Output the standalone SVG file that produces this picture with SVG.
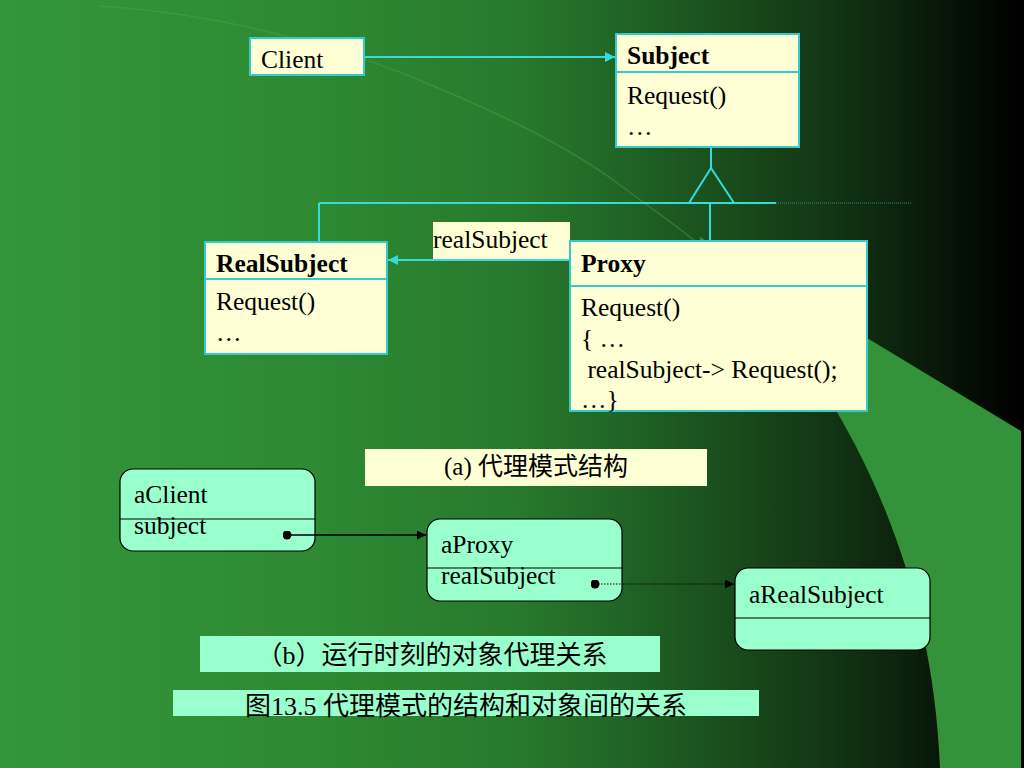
<svg xmlns="http://www.w3.org/2000/svg" width="1024" height="768" viewBox="0 0 1024 768">
<defs>
<linearGradient id="bg" x1="0" y1="0" x2="1024" y2="0" gradientUnits="userSpaceOnUse">
<stop offset="0" stop-color="#33963a"/>
<stop offset="0.3" stop-color="#2e8a33"/>
<stop offset="0.5" stop-color="#287a2d"/>
<stop offset="0.6" stop-color="#216626"/>
<stop offset="0.7" stop-color="#1a4f1d"/>
<stop offset="0.8" stop-color="#133815"/>
<stop offset="0.88" stop-color="#0c220d"/>
<stop offset="0.96" stop-color="#030a03"/>
<stop offset="1" stop-color="#000000"/>
</linearGradient>
<marker id="cyanArrow" viewBox="0 0 10 10" refX="10" refY="5" markerWidth="10" markerHeight="10" markerUnits="userSpaceOnUse" orient="auto">
<path d="M0,0 L10,5 L0,10 z" fill="#33dddd"/>
</marker>
<marker id="blackArrow" viewBox="0 0 10 10" refX="10" refY="5" markerWidth="9" markerHeight="9" markerUnits="userSpaceOnUse" orient="auto">
<path d="M0,0 L10,5 L0,10 z" fill="#000"/>
</marker>
<marker id="dot" viewBox="0 0 10 10" refX="5" refY="5" markerWidth="9" markerHeight="9" markerUnits="userSpaceOnUse">
<circle cx="5" cy="5" r="5" fill="#000"/>
</marker>
</defs>
<style>
.cls{fill:#ffffd5;stroke:#33cccc;stroke-width:2}
.div{stroke:#33cccc;stroke-width:2}
.obj{fill:#99ffcc;stroke:#000;stroke-width:1.2}
.odiv{stroke:#000;stroke-width:1.2}
.t{font-family:"Liberation Serif","Noto Sans CJK SC",serif;font-size:25.5px;fill:#000}
.b{font-weight:bold}
.cap{font-family:"Liberation Serif","Noto Sans CJK SC",serif;font-size:25px;fill:#000;text-anchor:middle}
.cap2{font-family:"Liberation Serif","Noto Sans CJK SC",serif;font-size:26px;fill:#000;text-anchor:middle}
.conn{stroke:#33dddd;stroke-width:2;fill:none}
</style>

<!-- background -->
<rect x="0" y="0" width="1024" height="768" fill="url(#bg)"/>
<path d="M700,237 L1021,431 L1021,768 L940,768 C935,640 900,520 837,412 C800,350 760,295 700,245 Z" fill="#34933a"/>
<path d="M100,6 C200,12 300,35 400,72 C480,105 560,140 620,185 C660,215 690,235 705,250" fill="none" stroke="#4eaa4e" stroke-opacity="0.4" stroke-width="1.5"/>

<g id="realSubjectLabel">
<rect x="433" y="222" width="137" height="38" fill="#ffffd5"/>
<text class="t" x="433" y="248">realSubject</text>
</g>

<g id="client">
<rect class="cls" x="250" y="38" width="114" height="37"/>
<text class="t" x="261" y="68">Client</text>
</g>

<g id="subject">
<rect class="cls" x="616" y="34" width="183" height="113"/>
<line class="div" x1="616" y1="72" x2="799" y2="72"/>
<text class="t b" x="627" y="64">Subject</text>
<text class="t" x="627" y="104">Request()</text>
<text class="t" x="627" y="135">…</text>
</g>

<g id="realSubject">
<rect class="cls" x="205" y="242" width="182" height="112"/>
<line class="div" x1="205" y1="279" x2="387" y2="279"/>
<text class="t b" x="216" y="272">RealSubject</text>
<text class="t" x="216" y="310">Request()</text>
<text class="t" x="216" y="341">…</text>
</g>

<g id="proxy">
<rect class="cls" x="570" y="241" width="297" height="170"/>
<line class="div" x1="570" y1="286" x2="867" y2="286"/>
<text class="t b" x="581" y="272">Proxy</text>
<text class="t" x="581" y="316">Request()</text>
<text class="t" x="581" y="347">{ …</text>
<text class="t" x="581" y="378" xml:space="preserve"> realSubject-&gt; Request();</text>
<text class="t" x="581" y="408">…}</text>
</g>

<g id="captionA">
<rect x="365" y="449" width="342" height="37" fill="#ffffd5"/>
<text class="cap" x="536" y="475">(a) 代理模式结构</text>
</g>

<g id="aClient">
<rect class="obj" x="120" y="469" width="195" height="82" rx="13" ry="13"/>
<line class="odiv" x1="120" y1="519" x2="315" y2="519"/>
<text class="t" x="134" y="503">aClient</text>
<text class="t" x="134" y="534">subject</text>
</g>

<g id="aProxy">
<rect class="obj" x="427" y="519" width="195" height="82" rx="13" ry="13"/>
<line class="odiv" x1="427" y1="568" x2="622" y2="568"/>
<text class="t" x="441" y="553">aProxy</text>
<text class="t" x="441" y="584">realSubject</text>
</g>

<g id="aRealSubject">
<rect class="obj" x="735" y="568" width="195" height="82" rx="13" ry="13"/>
<line class="odiv" x1="735" y1="618" x2="930" y2="618"/>
<text class="t" x="749" y="603">aRealSubject</text>
</g>

<g id="captionB">
<rect x="200" y="636" width="460" height="36" fill="#99ffcc"/>
<text class="cap2" x="432" y="664">（b）运行时刻的对象代理关系</text>
</g>

<g id="figCaption">
<rect x="173" y="690" width="586" height="26" fill="#99ffcc"/>
<text class="cap2" x="466" y="715">图13.5 代理模式的结构和对象间的关系</text>
</g>

<!-- connectors -->
<g id="connectors">
<line class="conn" x1="365" y1="57" x2="615" y2="57" marker-end="url(#cyanArrow)"/>
<line class="conn" x1="711" y1="148" x2="711" y2="168"/>
<path class="conn" d="M711,168 L689,203 L734,203 Z"/>
<line class="conn" x1="319" y1="203" x2="776" y2="203"/>
<line x1="776" y1="203" x2="912" y2="203" stroke="#2e9080" stroke-width="1" stroke-dasharray="1 1"/>
<line class="conn" x1="319" y1="203" x2="319" y2="241"/>
<line class="conn" x1="710" y1="203" x2="710" y2="240"/>
<line class="conn" x1="569" y1="260" x2="388" y2="260" marker-end="url(#cyanArrow)"/>
<line x1="287" y1="535" x2="426" y2="535" stroke="#000" stroke-width="1.5" marker-start="url(#dot)" marker-end="url(#blackArrow)"/>
<line x1="595" y1="584" x2="734" y2="584" stroke="#000" stroke-width="1.2" stroke-dasharray="1.5 1.5" marker-start="url(#dot)" marker-end="url(#blackArrow)"/>
</g>
</svg>
